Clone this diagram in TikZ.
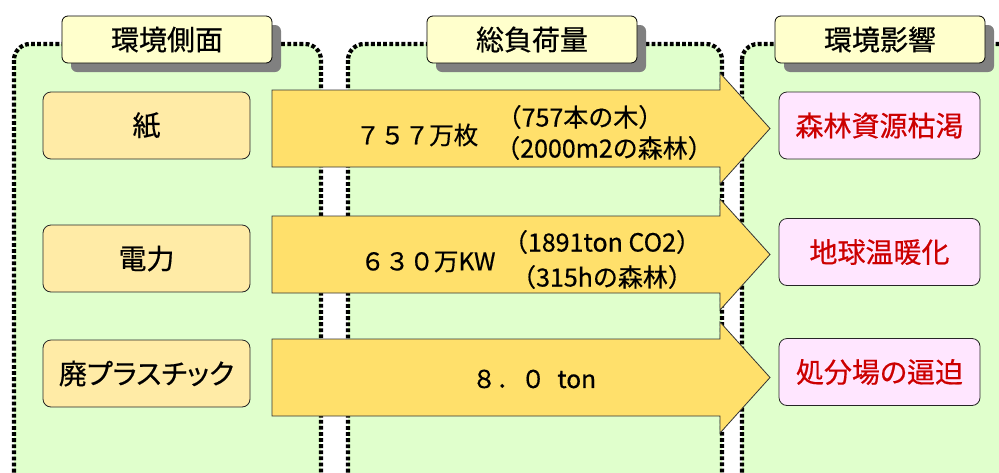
\documentclass[tikz,border=0pt]{standalone}
\usepackage{fontspec}
\setmainfont{Noto Sans CJK JP}[FakeBold=0.5]
\newfontfamily\propfont{Noto Sans CJK JP}[FakeBold=0.5,RawFeature=+palt]
\usetikzlibrary{shadows}
\definecolor{panelfill}{RGB}{224,255,204}
\definecolor{headfill}{RGB}{255,255,204}
\definecolor{leftfill}{RGB}{255,235,166}
\definecolor{rightfill}{RGB}{255,230,255}
\definecolor{arrowfill}{RGB}{255,224,107}
\definecolor{redtext}{RGB}{204,0,0}
\definecolor{shadowgray}{RGB}{128,128,128}
\begin{document}
\begin{tikzpicture}[x=1pt,y=-1pt,
  panel/.style={fill=panelfill,draw=black,line width=4.2pt,dash pattern=on 3.8pt off 2.3pt,rounded corners=16pt},
  header/.style={draw=black,line width=0.8pt,fill=headfill,rounded corners=6pt,minimum width=210pt,minimum height=47pt,inner sep=0pt,
     font=\fontsize{28}{32}\selectfont,
     drop shadow={shadow xshift=9pt,shadow yshift=-9pt,fill=shadowgray,opacity=1}},
  leftbox/.style={draw=black!85,line width=0.8pt,fill=leftfill,rounded corners=8pt,minimum width=207pt,minimum height=67pt,inner sep=0pt,
     font=\propfont\fontsize{28}{32}\selectfont},
  rightbox/.style={draw=black!85,line width=0.8pt,fill=rightfill,rounded corners=8pt,minimum width=201pt,minimum height=67pt,inner sep=0pt,
     text=redtext,font=\propfont\fontsize{28}{32}\selectfont},
  bigarrow/.style={draw=black!80,line width=0.8pt,fill=arrowfill},
  maintext/.style={inner sep=0pt,font=\fontsize{24.5}{28}\selectfont},
  subtext/.style={inner sep=0pt,font=\fontsize{25}{28}\selectfont}
]
\useasboundingbox (0,0) rectangle (999,472);
\clip (0,0) rectangle (999,472);
\fill[white] (0,0) rectangle (999,472);

% panels
\draw[panel] (14,44) rectangle (321,510);
\draw[panel] (348,44) rectangle (722,510);
\draw[panel] (742,44) rectangle (1030,510);

% headers
\node[header] (h1) at (167,39.5) {環境側面};
\node[header] (h2) at (532,39.5) {総負荷量};
\node[header] (h3) at (880,39.5) {環境影響};

% arrows
\draw[bigarrow] (272,90) -- (720,90) -- (720,73) -- (770,128.5) -- (720,184) -- (720,167) -- (272,167) -- cycle;
\draw[bigarrow] (272,216) -- (720,216) -- (720,199) -- (770,254.5) -- (720,310) -- (720,293) -- (272,293) -- cycle;
\draw[bigarrow] (272,339) -- (720,339) -- (720,322) -- (770,377.5) -- (720,433) -- (720,416) -- (272,416) -- cycle;

% left boxes
\node[leftbox] (l1) at (146.5,125.5) {紙};
\node[leftbox] (l2) at (146.5,258.5) {電力};
\node[leftbox] (l3) at (146.5,373.5) {廃プラスチック};

% right boxes
\node[rightbox] (r1) at (879.5,125.5) {森林資源枯渇};
\node[rightbox] (r2) at (879.5,252) {地球温暖化};
\node[rightbox] (r3) at (879.5,372) {処分場の逼迫};

% arrow texts
\node[maintext] (a1) at (417,135) {７５７万枚};
\node[subtext] (a1b) at (580,117) {（757本の木）};
\node[subtext] (a1c) at (604,148) {（2000m2の森林）};
\node[maintext] (a2) at (428,262) {６３０万KW};
\node[subtext] (a2b) at (602,242) {（1891ton CO2）};
\node[subtext] (a2c) at (602,277) {（315hの森林）};
\node[maintext] (a3) at (534,379) {８．０\hspace{12pt}ton};
\end{tikzpicture}
\end{document}
